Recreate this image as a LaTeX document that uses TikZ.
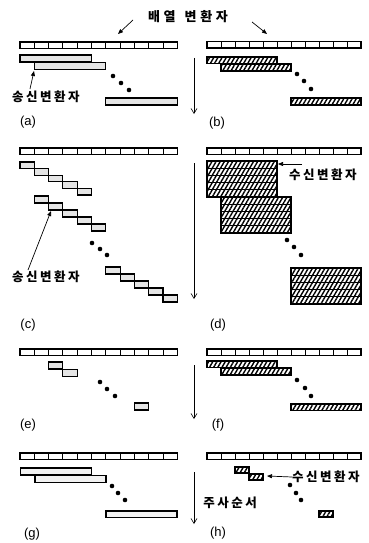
\documentclass[tikz,border=0pt]{standalone}
\usepackage{fontspec}
\setmainfont{Liberation Sans}
\newfontfamily\cjk[LetterSpace=20]{Noto Sans CJK KR}
\usetikzlibrary{arrows.meta,patterns.meta}

% a row of 11 transducer elements: left x, top y, element width
\newcommand\elemrow[3]{%
  \draw[line width=1.1pt,fill=white] (#1,#2) rectangle ({#1+11*#3},{#2+6.5});
  \foreach \k in {1,...,10} \draw[line width=0.9pt] ({#1+\k*#3},#2) -- ++(0,6.5);
}
% three dots marking the omitted steps
\newcommand\skipdots[6]{%
  \fill (#1,#2) circle (2.3pt) (#3,#4) circle (2.3pt) (#5,#6) circle (2.3pt);
}

\begin{document}
\begin{tikzpicture}[x=1pt,y=-1pt,
  txbox/.style={draw,line width=1.1pt,fill=black!10},
  txlight/.style={draw,line width=1.1pt,fill=black!5},
  rxbox/.style={draw,line width=1.1pt,
    pattern={Lines[angle=60,distance=3.6pt,line width=1.4pt]}},
  scanarrow/.style={line width=0.6pt,-{Straight Barb[length=5pt,width=6pt]}},
  ptr/.style={line width=0.7pt,-{Triangle[length=5pt,width=4pt]}},
  kor/.style={font=\cjk\bfseries\fontsize{12.5}{14}\selectfont,inner sep=0pt},
  tag/.style={font=\fontsize{13}{14}\selectfont,inner sep=0pt}]
\useasboundingbox[fill=white] (0,0) rectangle (368,543);

% ---------- title and its pointers ----------
\node[kor,font=\cjk\bfseries\fontsize{13}{14}\selectfont\addfontfeature{LetterSpace=28}]
  (title) at (188,17) {배열\hspace{9pt}변환자};
\coordinate (tl0) at (133,20);  \coordinate (tl1) at (118,34);
\coordinate (tr0) at (252,22);  \coordinate (tr1) at (267,34);
\draw[ptr] (tl0) -- (tl1);
\draw[ptr] (tr0) -- (tr1);

% ---------- scan direction arrows ----------
\coordinate (s1a) at (194,58);  \coordinate (s1b) at (194,114);
\coordinate (s2a) at (194,163); \coordinate (s2b) at (194,299);
\coordinate (s3a) at (194,365); \coordinate (s3b) at (194,419);
\coordinate (s4a) at (194,472); \coordinate (s4b) at (194,524);
\draw[scanarrow] (s1a) -- (s1b);
\draw[scanarrow] (s2a) -- (s2b);
\draw[scanarrow] (s3a) -- (s3b);
\draw[scanarrow] (s4a) -- (s4b);

% ---------- (a) ----------
\elemrow{20}{42}{14.3}
\draw[txbox] (20,55) rectangle (91.5,62);
\draw[txbox] (34.3,62.5) rectangle (105.8,69.5);
\skipdots{113}{76}{121}{83}{129}{90}
\draw[txbox] (105.8,98) rectangle (177.3,105);
\node[kor] (txa) at (46,97) {송신변환자};
\coordinate (pa0) at (30,89); \coordinate (pa) at (34,71);
\draw[ptr] (pa0) -- (pa);
\node[tag] (la) at (28,122) {(a)};

% ---------- (b) ----------
\elemrow{207}{41.5}{14}
\draw[rxbox] (207,57) rectangle (277,63.5);
\draw[rxbox] (221,64) rectangle (291,71);
\skipdots{297}{74}{304}{81}{311}{89}
\draw[rxbox] (291,98) rectangle (361,105);
\node[tag] (lb) at (217,123) {(b)};

% ---------- (c) ----------
\elemrow{20}{148}{14.3}
\foreach \i in {0,...,4}
  \draw[txbox] ({20+\i*14.3},{162+\i*6.6}) rectangle ++(14.3,6.6);
\foreach \i in {0,...,4}
  \draw[txbox] ({34.3+\i*14.3},{196+\i*7}) rectangle ++(14.3,7);
\skipdots{92}{243}{100}{249}{107}{255}
\foreach \i in {0,...,4}
  \draw[txbox] ({105.8+\i*14.3},{267+\i*7}) rectangle ++(14.3,7);
\node[kor] (txc) at (46,277) {송신변환자};
\coordinate (pc0) at (28,270); \coordinate (pc) at (51,211);
\draw[ptr] (pc0) -- (pc);
\node[tag] (lc) at (28,325) {(c)};

% ---------- (d) ----------
\elemrow{207}{148}{14}
\foreach \i in {0,...,4}
  \draw[rxbox] (207,{161+\i*7.2}) rectangle ++(70,7.2);
\foreach \i in {0,...,4}
  \draw[rxbox] (221,{197+\i*7.2}) rectangle ++(70,7.2);
\skipdots{287}{240}{294}{247}{301}{255}
\foreach \i in {0,...,4}
  \draw[rxbox] (291,{268+\i*7.2}) rectangle ++(70,7.2);
\node[kor,anchor=west] (rxd) at (289,175) {수신변환자};
\coordinate (pd0) at (302,164); \coordinate (pd) at (278,164);
\draw[ptr] (pd0) -- (pd);
\node[tag] (ld) at (218,325) {(d)};

% ---------- (e) ----------
\elemrow{20}{349}{14.3}
\draw[txbox] (48.6,362) rectangle ++(14.3,7);
\draw[txbox] (62.9,369.5) rectangle ++(14.3,7);
\skipdots{100}{382}{107}{389}{115}{396}
\draw[txbox] (134.4,403) rectangle ++(14.3,7);
\node[tag] (le) at (28,425) {(e)};

% ---------- (f) ----------
\elemrow{207}{349}{14}
\draw[rxbox] (207,361) rectangle (277,367.5);
\draw[rxbox] (221,368) rectangle (291,375);
\skipdots{297}{380}{305}{388}{311}{396}
\draw[rxbox] (291,404) rectangle (361,410.5);
\node[tag] (lf) at (218,425) {(f)};

% ---------- (g) ----------
\elemrow{20}{453}{14.3}
\draw[txlight] (20.5,468) rectangle (91.5,475);
\draw[txlight] (35,475.5) rectangle (106,482.5);
\skipdots{112}{486}{118}{493}{125}{500}
\draw[txlight] (106,511) rectangle (177,517.5);
\node[tag] (lg) at (32,534) {(g)};

% ---------- (h) ----------
\elemrow{207}{453}{14}
\draw[rxbox] (235,467) rectangle ++(14,6);
\draw[rxbox] (249,474) rectangle ++(14,6);
\node[kor,anchor=west] (rxh) at (292,477) {수신변환자};
\coordinate (ph) at (267,476);
\draw[ptr] (rxh.west) -- (ph);
\skipdots{290}{485}{296}{493}{301}{500}
\draw[rxbox] (319,511) rectangle ++(14,6);
\node[kor] (order) at (230,503) {주사순서};
\node[tag] (lh) at (218,533) {(h)};
\end{tikzpicture}
\end{document}
